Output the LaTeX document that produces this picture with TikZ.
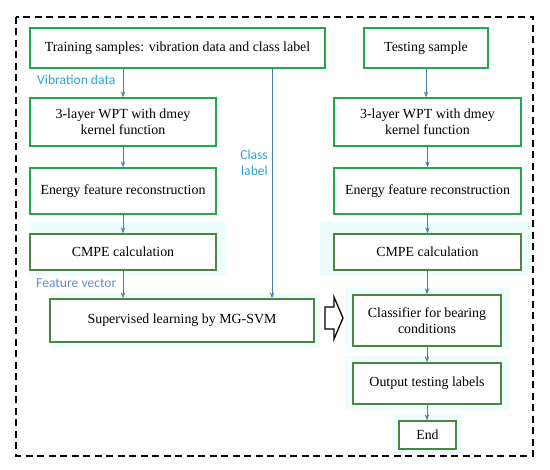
\documentclass[tikz,border=0pt]{standalone}
\usepackage{fontspec}
\setmainfont{Liberation Serif}
\newfontfamily\boxfont{Liberation Serif}
\newfontfamily\lblfont{Carlito}
\usetikzlibrary{arrows.meta}
\definecolor{boxgreen}{RGB}{30,170,75}
\definecolor{boxolive}{RGB}{75,135,65}
\definecolor{arr}{RGB}{70,130,165}
\definecolor{lbl}{RGB}{40,165,215}
\definecolor{lbl2}{RGB}{100,140,215}
\definecolor{halo}{RGB}{238,253,253}
\tikzset{
  box/.style={draw=boxgreen, line width=1.3pt, fill=white, rectangle, align=center, inner sep=2pt,
    font=\boxfont\fontsize{13.9}{16}\selectfont},
  obox/.style={box, draw=boxolive},
  flow/.style={draw=arr, line width=0.9pt, -{Stealth[length=6pt,width=4.5pt]}},
  lab/.style={text=lbl, font=\lblfont\fontsize{13.6}{16}\selectfont, inner sep=0pt},
  halobox/.style={fill=halo, draw=none}
}
\begin{document}
\begin{tikzpicture}[x=1pt,y=-1pt]
\useasboundingbox (0,0) rectangle (550,470);
% halos
\fill[halo] (30,222) rectangle (226,276);
\fill[halo] (320,222) rectangle (530,276);
\fill[halo] (50,294) rectangle (320,348);
\fill[halo] (345,288) rectangle (510,350);
\fill[halo] (345,356) rectangle (510,410);
\fill[halo] (392,414) rectangle (462,453);
% frame
\draw[line width=1.6pt, dash pattern=on 7pt off 4.5pt] (16,17) rectangle (533,456);
% left column
\node[box, minimum width=295pt, minimum height=40pt] (train) at (177.5,48) {Training samples: vibration data and class label};
\node[box, minimum width=186pt, minimum height=48pt] (wptL) at (123,122) {3-layer WPT with dmey\\kernel function};
\node[box, minimum width=186pt, minimum height=46pt] (enL) at (123,191) {Energy feature reconstruction};
\node[obox, minimum width=186pt, minimum height=36pt] (cmL) at (123,252) {CMPE calculation};
\node[obox, minimum width=264pt, minimum height=43pt] (svm) at (182,320.5) {Supervised learning by MG-SVM};
% right column
\node[box, minimum width=124pt, minimum height=40pt] (test) at (426,48) {Testing sample};
\node[box, minimum width=187pt, minimum height=48pt] (wptR) at (427.5,122) {3-layer WPT with dmey\\kernel function};
\node[box, minimum width=187pt, minimum height=46pt] (enR) at (427.5,191) {Energy feature reconstruction};
\node[obox, minimum width=187pt, minimum height=36pt] (cmR) at (427.5,252) {CMPE calculation};
\node[obox, minimum width=148pt, minimum height=51pt] (cls) at (427,320.5) {Classifier for bearing\\conditions};
\node[obox, minimum width=148pt, minimum height=41pt] (out) at (427,383.5) {Output testing labels};
\node[obox, minimum width=57pt, minimum height=28pt] (end) at (427.5,435) {End};
% connectors
\coordinate (cl) at (272,0);
\draw[flow] (wptL.north |- train.south) -- (wptL.north);
\draw[flow] (wptL.south) -- (enL.north);
\draw[flow] (enL.south) -- (cmL.north);
\draw[flow] (cmL.south) -- (cmL.south |- svm.north);
\draw[flow] (train.south -| cl) -- (svm.north -| cl);
\draw[flow] (test.south) -- (test.south |- wptR.north);
\draw[flow] (wptR.south) -- (enR.north);
\draw[flow] (enR.south) -- (cmR.north);
\draw[flow] (cmR.south -| cls.north) -- (cls.north);
\draw[flow] (cls.south) -- (out.north);
\draw[flow] (out.south) -- (end.north -| out.south);
% labels
\node[lab, anchor=west] (vd) at (37,80) {Vibration data};
\node[lab, anchor=west, text=lbl2] (fv) at (36,283) {Feature vector};
\node[lab, anchor=east, align=right] (cll) at (268,163) {Class\\label};
% hollow arrow
\draw[line width=1.3pt, fill=white, line join=miter]
  (325,307) -- (334,307) -- (334,297) -- (343,318) -- (334,339) -- (334,329) -- (325,329) -- cycle;
\end{tikzpicture}
\end{document}
